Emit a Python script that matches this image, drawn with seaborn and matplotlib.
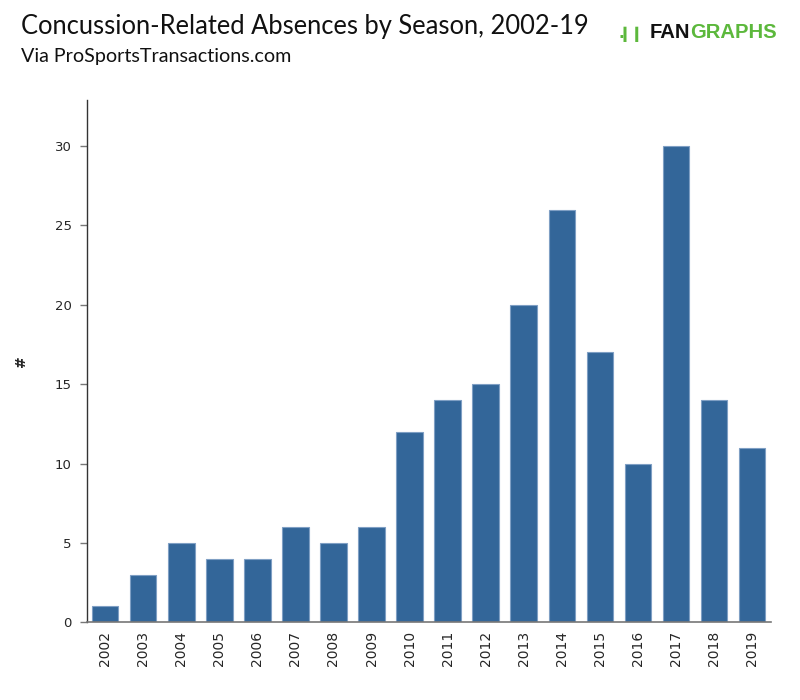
import matplotlib
matplotlib.use("Agg")
import matplotlib.pyplot as plt
import seaborn as sns
import pandas as pd

years = ["2002","2003","2004","2005","2006","2007","2008","2009","2010",
         "2011","2012","2013","2014","2015","2016","2017","2018","2019"]
counts = [1,3,5,4,4,6,5,6,12,14,15,20,26,17,10,30,14,11]
yticks = [0,5,10,15,20,25,30]

df = pd.DataFrame({"year": years, "count": counts})

sns.set_style("white")
plt.rcParams['font.family'] = ['DejaVu Sans']

fig = plt.figure(figsize=(8, 7), dpi=100)
ax = fig.add_axes([0.109, 0.111, 0.855, 0.746])

sns.barplot(data=df, x="year", y="count", color="#336699", saturation=1,
            width=0.7, edgecolor="#7f9fc4", linewidth=0.8, ax=ax)

ax.set_xlim(-0.47, 17.5)
ax.set_ylim(0, 32.9)
ax.set_yticks(yticks)
ax.tick_params(axis='y', length=5, width=1, color="#777777", labelsize=9.5, pad=6, direction='out', left=True)
ax.tick_params(axis='x', length=0, labelsize=10, pad=6, rotation=90)
for s in ["top", "right"]:
    ax.spines[s].set_visible(False)
ax.spines["left"].set_color("#333333")
ax.spines["left"].set_linewidth(1)
ax.spines["bottom"].set_color("#777777")
ax.spines["bottom"].set_linewidth(1.2)
ax.set_xlabel("")
ax.set_ylabel("#", fontsize=10, fontweight="bold")
ax.yaxis.set_label_coords(-0.086, 0.5)

fig.text(0.026, 0.952, "Concussion-Related Absences by Season, 2002-19",
         fontsize=18.4, family="Lato", va="baseline", color="#111111")
fig.text(0.026, 0.912, "Via ProSportsTransactions.com",
         fontsize=14.2, family="Lato", va="baseline", color="#111111")

# logo
t1 = fig.text(0.8125, 0.946, "FAN", fontsize=14.6, family="Liberation Sans",
              fontweight="bold", va="baseline", color="#111111")
fig.canvas.draw()
r = fig.canvas.get_renderer()
bb = t1.get_window_extent(r)
x1 = bb.x1 / fig.bbox.width
x0 = bb.x0 / fig.bbox.width
fig.text(x1, 0.946, "GRAPHS", fontsize=14.6, family="Liberation Sans",
         fontweight="bold", va="baseline", color="#5cb83c")
fig.text(x0 - 0.003, 0.946, ".\u258e\u258e", fontsize=11, family="DejaVu Sans",
         fontweight="bold", va="baseline", ha="right", color="#5cb83c")

fig.savefig("out.png", dpi=100)
